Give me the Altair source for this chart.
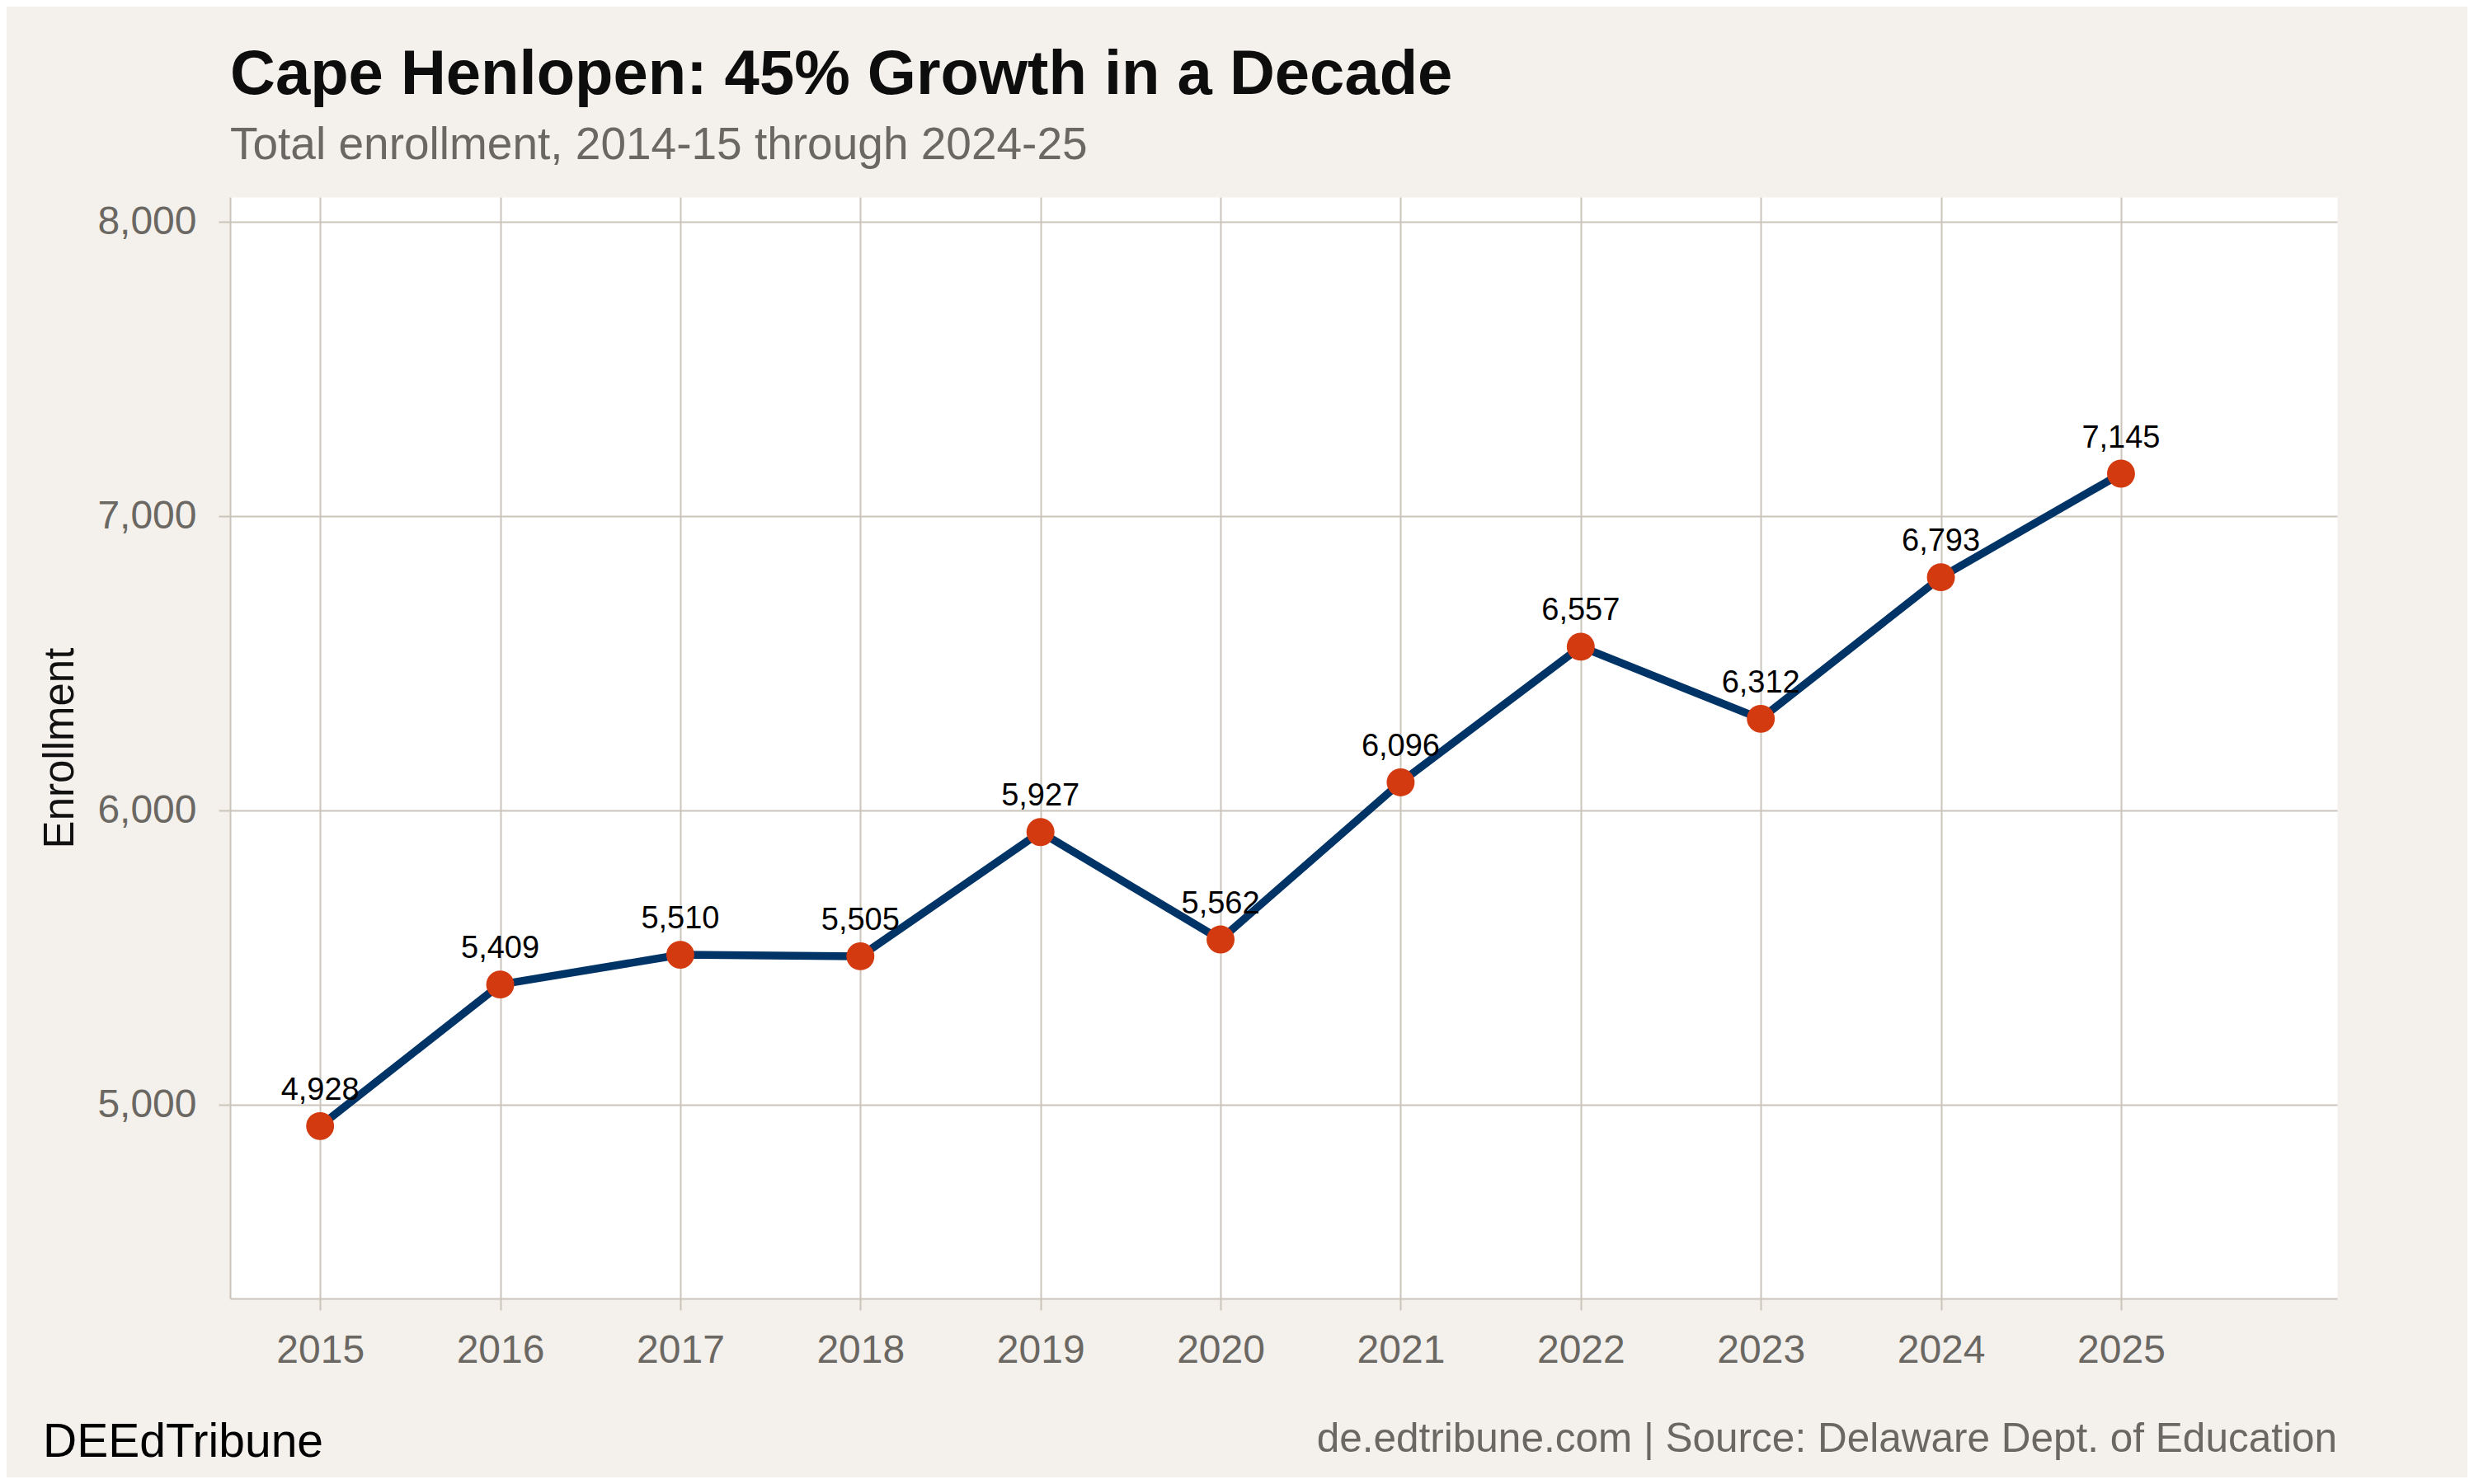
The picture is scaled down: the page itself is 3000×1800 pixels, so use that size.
import altair as alt
import pandas as pd

# ---- data ----
years = [2015, 2016, 2017, 2018, 2019, 2020, 2021, 2022, 2023, 2024, 2025]
enrollment = [4928, 5409, 5510, 5505, 5927, 5562, 6096, 6557, 6312, 6793, 7145]
y_ticks = [5000, 6000, 7000, 8000]

title_text = "Cape Henlopen: 45% Growth in a Decade"
subtitle_text = "Total enrollment, 2014-15 through 2024-25"
y_title = "Enrollment"
left_caption = "DEEdTribune"
right_caption = "de.edtribune.com | Source: Delaware Dept. of Education"

df = pd.DataFrame({"year": years, "enrollment": enrollment})

FONT = "Liberation Sans"
BG = "#F4F1EC"
GRID = "#CBC4BB"
GRAY = "#6B6762"
NAVY = "#003366"
ORANGE = "#D33A10"

W, H = 2555, 1336

x_scale = alt.Scale(domain=[2014.5, 2026.2], nice=False, zero=False)
y_scale = alt.Scale(domain=[4342, 8085], nice=False, zero=False)

x_axis = alt.Axis(
    values=years, format="d", title=None, grid=True,
    labelFontSize=48, labelColor=GRAY, labelFont=FONT, labelPadding=25,
    tickSize=14, tickColor=GRID, tickWidth=2,
    domainColor=GRID, domainWidth=2, gridColor=GRID, gridWidth=2,
    labelFlush=False,
)
y_axis = alt.Axis(
    values=y_ticks, format=",d", title=y_title, grid=True,
    labelFontSize=48, labelColor=GRAY, labelFont=FONT, labelPadding=27,
    tickSize=14, tickColor=GRID, tickWidth=2,
    domainColor=GRID, domainWidth=2, gridColor=GRID, gridWidth=2,
    titleFont=FONT, titleFontSize=51, titleFontWeight="normal", titleColor="#111111",
    titleX=-191, titleY=H / 2, titleAngle=270, titleAlign="center",
    titleBaseline="alphabetic", labelFlush=False,
)

base = alt.Chart(df).encode(
    x=alt.X("year:Q", scale=x_scale, axis=x_axis),
    y=alt.Y("enrollment:Q", scale=y_scale, axis=y_axis),
)

line = base.mark_line(color=NAVY, strokeWidth=9.5)

points = base.mark_circle(color=ORANGE, size=1150, opacity=1)

labels = base.mark_text(
    font=FONT, fontSize=38, color="#000000", dy=-32, baseline="alphabetic", align="center"
).encode(text=alt.Text("enrollment:Q", format=",d"))

cap_left = alt.Chart(pd.DataFrame({"t": [left_caption]})).mark_text(
    font=FONT, fontSize=57, color="#000000", align="left", baseline="alphabetic"
).encode(x=alt.value(-227), y=alt.value(1528), text="t:N")

cap_right = alt.Chart(pd.DataFrame({"t": [right_caption]})).mark_text(
    font=FONT, fontSize=49.5, color=GRAY, align="right", baseline="alphabetic"
).encode(x=alt.value(W), y=alt.value(1522), text="t:N")

chart = (
    alt.layer(line, points, labels, cap_left, cap_right)
    .properties(
        width=W,
        height=H,
        autosize=alt.AutoSizeParams(type="none"),
        padding={"left": 271, "top": 231, "right": 158, "bottom": 217},
        background=BG,
        title=alt.TitleParams(
            text=title_text,
            subtitle=subtitle_text,
            anchor="start",
            frame="group",
            font=FONT,
            fontSize=76,
            fontWeight="bold",
            color="#0D0D0D",
            subtitleFont=FONT,
            subtitleFontSize=55,
            subtitleColor=GRAY,
            subtitlePadding=20,
            offset=34,
        ),
    )
    .configure_view(fill="white", stroke="transparent")
)

chart.save("out.html", embed_options={"renderer": "svg", "actions": False})
